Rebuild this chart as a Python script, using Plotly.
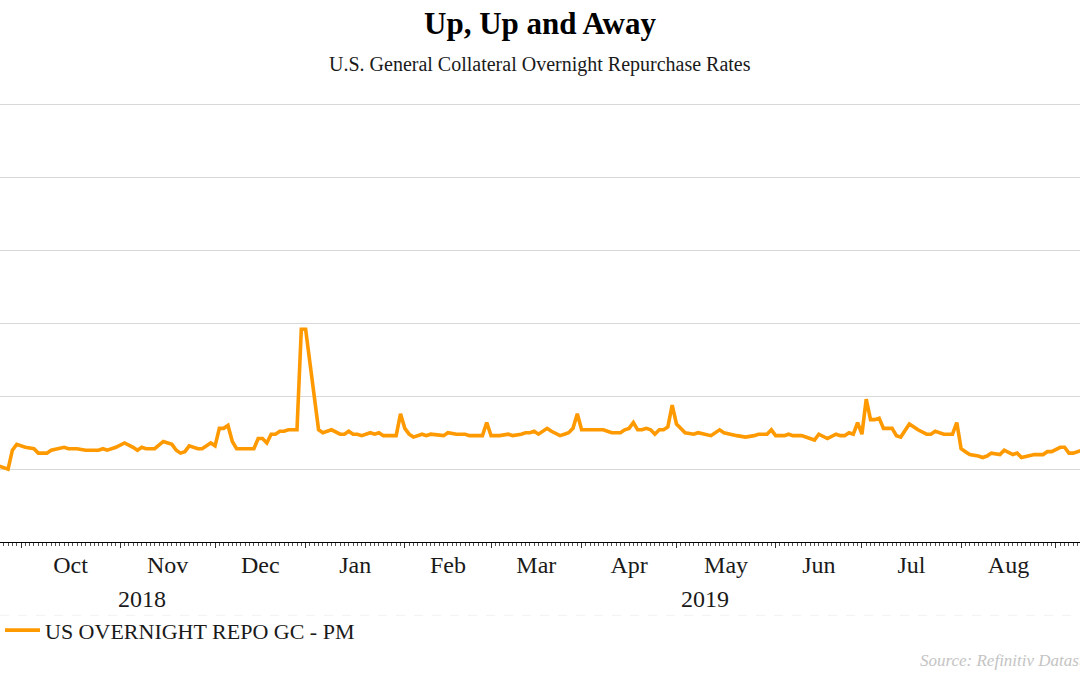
import numpy as np
import plotly.graph_objects as go

# ---------------- data ----------------
dates = [
    "2018-09-24", "2018-09-26", "2018-09-27", "2018-09-28",
    "2018-10-02", "2018-10-04", "2018-10-05", "2018-10-09", "2018-10-10", "2018-10-12",
    "2018-10-15", "2018-10-16", "2018-10-18", "2018-10-22", "2018-10-25", "2018-10-26",
    "2018-10-29", "2018-10-31",
    "2018-11-02", "2018-11-06", "2018-11-07", "2018-11-08", "2018-11-09", "2018-11-13",
    "2018-11-15", "2018-11-19", "2018-11-20", "2018-11-21", "2018-11-22", "2018-11-23",
    "2018-11-27", "2018-11-28", "2018-11-30",
    "2018-12-03", "2018-12-04", "2018-12-05", "2018-12-06", "2018-12-07", "2018-12-10",
    "2018-12-12", "2018-12-14", "2018-12-17", "2018-12-18", "2018-12-19", "2018-12-20",
    "2018-12-21", "2018-12-24", "2018-12-25", "2018-12-26", "2018-12-28", "2018-12-31",
    "2019-01-01", "2019-01-02", "2019-01-03", "2019-01-04", "2019-01-07", "2019-01-09",
    "2019-01-11", "2019-01-14", "2019-01-15", "2019-01-16", "2019-01-17", "2019-01-18",
    "2019-01-22", "2019-01-23", "2019-01-24", "2019-01-25", "2019-01-29", "2019-01-30",
    "2019-01-31",
    "2019-02-01", "2019-02-04", "2019-02-05", "2019-02-07", "2019-02-08", "2019-02-11",
    "2019-02-14", "2019-02-15", "2019-02-19", "2019-02-21", "2019-02-22", "2019-02-27",
    "2019-02-28",
    "2019-03-01", "2019-03-04", "2019-03-05", "2019-03-07", "2019-03-08", "2019-03-12",
    "2019-03-13", "2019-03-14", "2019-03-15", "2019-03-18", "2019-03-20", "2019-03-21",
    "2019-03-25", "2019-03-26", "2019-03-27", "2019-03-28", "2019-03-29",
    "2019-04-01", "2019-04-08", "2019-04-09", "2019-04-10", "2019-04-12", "2019-04-15",
    "2019-04-16", "2019-04-17", "2019-04-18", "2019-04-19", "2019-04-22", "2019-04-23",
    "2019-04-24", "2019-04-25", "2019-04-26", "2019-04-29", "2019-04-30",
    "2019-05-01", "2019-05-03", "2019-05-07", "2019-05-08", "2019-05-10", "2019-05-13",
    "2019-05-15", "2019-05-16", "2019-05-21", "2019-05-23", "2019-05-27", "2019-05-28",
    "2019-05-30", "2019-05-31",
    "2019-06-03", "2019-06-05", "2019-06-06", "2019-06-07", "2019-06-11", "2019-06-12",
    "2019-06-14", "2019-06-17", "2019-06-19", "2019-06-21", "2019-06-24", "2019-06-25",
    "2019-06-26", "2019-06-27", "2019-06-28",
    "2019-07-01", "2019-07-02", "2019-07-03", "2019-07-04", "2019-07-05", "2019-07-08",
    "2019-07-10", "2019-07-11", "2019-07-12", "2019-07-16", "2019-07-18", "2019-07-22",
    "2019-07-23", "2019-07-24", "2019-07-26", "2019-07-30", "2019-07-31",
    "2019-08-01", "2019-08-02", "2019-08-05", "2019-08-07", "2019-08-08", "2019-08-09",
    "2019-08-12", "2019-08-14", "2019-08-15", "2019-08-19", "2019-08-20", "2019-08-21",
    "2019-08-23", "2019-08-26", "2019-08-28", "2019-08-29", "2019-08-30",
    "2019-09-03", "2019-09-04", "2019-09-05", "2019-09-06", "2019-09-10",
]
rates = [
    2.02, 2.00, 2.13, 2.17,
    2.15, 2.14, 2.11, 2.11, 2.13, 2.14,
    2.15, 2.14, 2.14, 2.13, 2.13, 2.14,
    2.13, 2.15,
    2.18, 2.15, 2.13, 2.15, 2.14, 2.14,
    2.19, 2.17, 2.13, 2.11, 2.12, 2.16,
    2.14, 2.14, 2.18,
    2.16, 2.28, 2.28, 2.30, 2.19, 2.14,
    2.14, 2.14, 2.21, 2.21, 2.18, 2.24,
    2.24, 2.26, 2.26, 2.27, 2.27, 2.96,
    2.96, 2.72, 2.47, 2.27, 2.25, 2.27,
    2.24, 2.24, 2.26, 2.24, 2.24, 2.23,
    2.25, 2.24, 2.25, 2.23, 2.23, 2.23,
    2.38,
    2.28, 2.24, 2.22, 2.24, 2.23, 2.24,
    2.23, 2.25, 2.24, 2.24, 2.23, 2.23,
    2.32,
    2.23, 2.23, 2.23, 2.24, 2.23, 2.24,
    2.25, 2.25, 2.26, 2.24, 2.28, 2.26,
    2.23, 2.24, 2.25, 2.28, 2.38,
    2.27, 2.27, 2.26, 2.25, 2.25, 2.27,
    2.28, 2.32, 2.27, 2.27, 2.28, 2.27,
    2.24, 2.27, 2.27, 2.29, 2.44,
    2.31, 2.25, 2.24, 2.25, 2.24, 2.23,
    2.27, 2.25, 2.23, 2.22, 2.23, 2.24,
    2.24, 2.27,
    2.23, 2.23, 2.24, 2.23, 2.23, 2.22,
    2.20, 2.24, 2.21, 2.24, 2.23, 2.23,
    2.25, 2.24, 2.32,
    2.24, 2.48, 2.34, 2.34, 2.35, 2.28,
    2.28, 2.23, 2.22, 2.31, 2.27, 2.24,
    2.24, 2.26, 2.24, 2.24, 2.32,
    2.14, 2.12, 2.10, 2.09, 2.08, 2.09,
    2.11, 2.10, 2.13, 2.10, 2.11, 2.08,
    2.09, 2.10, 2.10, 2.12, 2.12,
    2.15, 2.15, 2.11, 2.11, 2.13,
]
series_name = "US OVERNIGHT REPO GC - PM"

month_starts = ["2018-09-01", "2018-10-01", "2018-11-01", "2018-12-01", "2019-01-01",
                "2019-02-01", "2019-03-01", "2019-04-01", "2019-05-01", "2019-06-01",
                "2019-07-01", "2019-08-01", "2019-09-01", "2019-10-01"]
month_labels = ["Sep", "Oct", "Nov", "Dec", "Jan", "Feb", "Mar", "Apr", "May", "Jun",
                "Jul", "Aug", "Sep"]
year_labels = ["2018", "2019"]
year_spans = [("2018-09-17", "2019-01-01"), ("2019-01-01", "2019-09-17")]

title = "Up, Up and Away"
subtitle = "U.S. General Collateral Overnight Repurchase Rates"
source = "Source: Refinitiv Datastream"

# ---------------- business-day scale (weekends removed) ----------------
ORIGIN = "2018-10-01"


def bidx(d):
    return int(np.busday_count(ORIGIN, d))


x_vals = [bidx(d) for d in dates]
bounds = [bidx(m) for m in month_starts]
centers = [(bounds[i] + bounds[i + 1]) / 2 for i in range(len(month_labels))]
year_centers = [(bidx(a) + bidx(b)) / 2 for a, b in year_spans]

X_RANGE = [-4.87, 245.57]
Y_RANGE = [1.5, 4.52]

FONT = "Liberation Serif"
ORANGE = "#ff9900"

# plot area geometry (pixels) for placing texts outside it
H = 675
B = 132.5
GRID_PX = 73.0                      # pixels per 0.5 step
T = (H - B) - (Y_RANGE[1] - Y_RANGE[0]) / 0.5 * GRID_PX
PH = H - T - B


def py(p):
    return (H - B - p) / PH


fig = go.Figure()
fig.add_trace(go.Scatter(
    x=x_vals, y=rates, mode="lines", name=series_name,
    line=dict(color=ORANGE, width=3.6), xaxis="x", yaxis="y",
    hovertemplate="%{y:.2f}<extra></extra>",
))
# invisible trace to carry the month-label axis
fig.add_trace(go.Scatter(x=[centers[1]], y=[None], xaxis="x2", yaxis="y",
                         showlegend=False, hoverinfo="skip"))

px_per_unit = 1080 / (X_RANGE[1] - X_RANGE[0])

annotations = [
    dict(text=f"<b>{title}</b>", x=0.5, y=py(23), xref="paper", yref="paper",
         showarrow=False, xanchor="center", yanchor="middle",
         font=dict(family=FONT, size=31, color="#000000")),
    dict(text=subtitle, x=0.5, y=py(64), xref="paper", yref="paper",
         showarrow=False, xanchor="center", yanchor="middle",
         font=dict(family=FONT, size=20, color="#1a1a1a")),
    dict(text=f"<i>{source}</i>", x=X_RANGE[0] + 918 / px_per_unit, y=py(661),
         xref="x", yref="paper",
         showarrow=False, xanchor="left", yanchor="middle",
         font=dict(family=FONT, size=17, color="#c4c4c4")),
]
for lab, xc in zip(year_labels, year_centers):
    annotations.append(dict(text=lab, x=xc, y=py(600), xref="x", yref="paper",
                            showarrow=False, xanchor="center", yanchor="middle",
                            font=dict(family=FONT, size=24, color="#1a1a1a")))

fig.update_layout(
    width=1080, height=675,
    margin=dict(l=0, r=0, t=T, b=B, pad=0),
    paper_bgcolor="white", plot_bgcolor="white",
    font=dict(family=FONT, color="#1a1a1a"),
    showlegend=True,
    legend=dict(x=0.0, xanchor="left", y=py(631), yanchor="middle",
                font=dict(family=FONT, size=22, color="#1a1a1a"),
                bgcolor="rgba(0,0,0,0)", itemwidth=35),
    xaxis=dict(
        range=X_RANGE, showgrid=False, zeroline=False,
        showline=True, linecolor="#000000", linewidth=1,
        tickmode="array", tickvals=bounds, ticktext=[""] * len(bounds),
        ticks="outside", ticklen=5, tickwidth=1, tickcolor="#333333",
        minor=dict(dtick=1, tick0=0, ticks="outside", ticklen=3,
                   tickwidth=1, tickcolor="#555555", showgrid=False),
    ),
    xaxis2=dict(
        range=X_RANGE, overlaying="x", anchor="y", side="bottom",
        showgrid=False, zeroline=False, showline=False, ticks="",
        tickmode="array", tickvals=centers, ticktext=month_labels,
        tickfont=dict(family=FONT, size=24, color="#1a1a1a"),
        ticklabelstandoff=6,
    ),
    yaxis=dict(
        range=Y_RANGE, dtick=0.5, tick0=0, showticklabels=False,
        showgrid=True, gridcolor="#d9d9d9", gridwidth=1,
        zeroline=False, showline=False, ticks="",
    ),
    annotations=annotations,
    shapes=[dict(type="line", xref="paper", yref="paper", x0=0, x1=1,
                 y0=py(616), y1=py(616),
                 line=dict(color="#f3f3f3", width=1, dash="dash"))],
)

fig.write_html("out.html")
